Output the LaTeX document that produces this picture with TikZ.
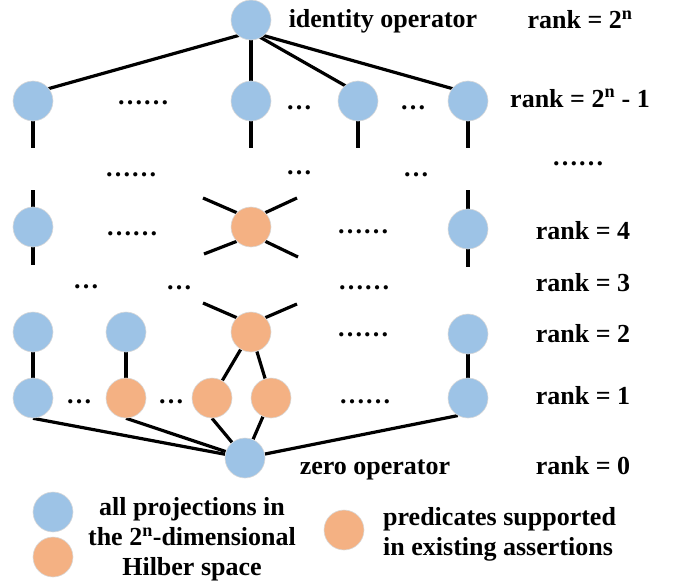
\documentclass[tikz,border=0pt]{standalone}
\usepackage{fontspec}
\setmainfont{Liberation Serif}
\usetikzlibrary{backgrounds}
\definecolor{pjblue}{HTML}{9DC3E6}
\definecolor{pdorange}{HTML}{F4B183}
\tikzset{
  pj/.style={circle,minimum size=40pt,inner sep=0pt,fill=pjblue,draw=black!15,line width=.6pt},
  pd/.style={circle,minimum size=40pt,inner sep=0pt,fill=pdorange,draw=black!15,line width=.6pt},
  lbl/.style={inner sep=0pt,anchor=base},
  edge/.style={line width=3.2pt}
}
\begin{document}
\begin{tikzpicture}[font=\fontsize{26}{30}\selectfont\bfseries, x=1pt, y=-1pt]
\useasboundingbox (0,0) rectangle (678,586);

% nodes, from the top
\node[pj] (id) at (251,20) {};
\node[pj] (ma) at (33,101) {};
\node[pj] (mb) at (251,101) {};
\node[pj] (mc) at (358,101) {};
\node[pj] (md) at (468,101) {};

\node[pj] (fa) at (33,227) {};
\node[pd] (fb) at (251,227) {};
\node[pj] (fc) at (468,229) {};

\node[pj] (ta) at (33,332) {};
\node[pj] (tb) at (126,332) {};
\node[pd] (tc) at (251,332) {};
\node[pj] (td) at (468,334) {};

\node[pj] (oa) at (33,398) {};
\node[pd] (ob) at (126,398) {};
\node[pd] (oc) at (212,398) {};
\node[pd] (od) at (271,398) {};
\node[pj] (oe) at (468,398) {};

\node[pj] (zero) at (245,458) {};

% free ends
\coordinate (sa) at (33,148);
\coordinate (sb) at (251,148);
\coordinate (sc) at (358,148);
\coordinate (sd) at (468,148);
\coordinate (ua) at (33,190);
\coordinate (ub) at (468,190);
\coordinate (va) at (33,265);
\coordinate (vb) at (468,267);
\coordinate (xa) at (203,198);
\coordinate (xb) at (297,198);
\coordinate (xc) at (204,254);
\coordinate (xd) at (298,257);
\coordinate (ya) at (203,303);
\coordinate (yb) at (297,304);

\begin{pgfonlayer}{background}
\begin{scope}[edge]
\foreach \m in {ma,mb,mc,md}{
\draw ([yshift=-12pt]id.center) -- ([yshift=8pt]\m.center);
}
\draw (ma) -- (sa);
\draw (mb) -- (sb);
\draw (mc) -- (sc);
\draw (md) -- (sd);
\draw (ua) -- (fa) -- (va);
\draw (ub) -- (fc) -- (vb);
\draw (xa) -- (fb.135);
\draw (xb) -- (fb.45);
\draw (xc) -- (fb.225);
\draw (xd) -- (fb.315);
\draw (ya) -- (tc.135);
\draw (yb) -- (tc.45);
\draw (tc) -- (oc);
\draw (tc) -- (od);
\draw (ta) -- (oa);
\draw (tb) -- (ob);
\draw (td) -- (oe);
\draw (oa.south) -- (zero);
\draw (ob.south) -- (zero);
\draw (oc.south) -- (zero);
\draw (od) -- (zero);
\draw (oe.240) -- (zero);
\end{scope}
\end{pgfonlayer}

% dots
\foreach \x/\y [count=\i] in {143/105,131/176,578/165,132/235,363/233,364/289,363/336,365/403}{
\node[lbl] (ds\i) at (\x,\y) {……};
}
\foreach \x/\y [count=\i] in {299/110,413/110,299/174,416/176,86/288,179/289,79/403,171/403}{
\node[lbl] (dt\i) at (\x,\y) {…};
}

% labels
\node[lbl] (idtxt) at (383,28) {identity operator};
\node[lbl] (zerotxt) at (375,474) {zero operator};
\node[lbl] (rn) at (580,29) {rank = 2\textsuperscript{n}};
\node[lbl] (rn1) at (580,107) {rank = 2\textsuperscript{n} - 1};
\node[lbl] (r4) at (583,239) {rank = 4};
\node[lbl] (r3) at (583,291) {rank = 3};
\node[lbl] (r2) at (583,342) {rank = 2};
\node[lbl] (r1) at (583,404) {rank = 1};
\node[lbl] (r0) at (583,474) {rank = 0};

% legend
\node[pj] (kb) at (53,512) {};
\node[pd] (ko) at (53,557) {};
\node[pd] (kp) at (344,530) {};
\node[inner sep=0pt,align=center] (kbtxt) at (192,539) {all projections in\\the 2\textsuperscript{n}-dimensional\\Hilber space};
\node[inner sep=0pt,align=left,anchor=west] (kptxt) at (383,534) {predicates supported\\in existing assertions};
\end{tikzpicture}
\end{document}
